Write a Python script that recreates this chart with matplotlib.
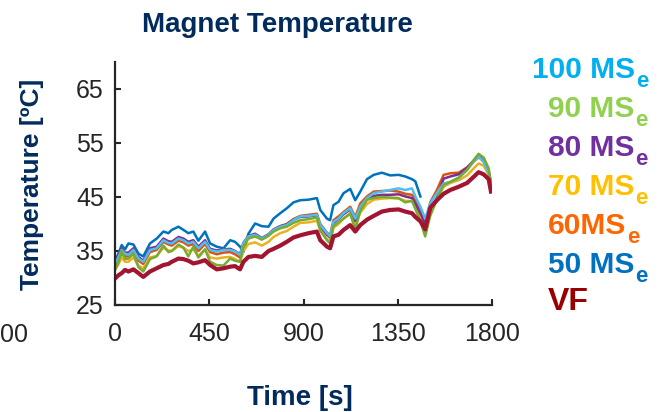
import numpy as np
import matplotlib.pyplot as plt

plt.rcParams['font.family'] = ['Liberation Sans', 'DejaVu Sans']

# time samples [s]
time_s = [0, 16, 32, 48, 64, 88, 112, 135, 167, 199, 231, 255, 271, 303, 327, 350,
          374, 398, 430, 454, 486, 518, 550, 573, 597, 613, 637, 669, 701, 733, 757,
          789, 820, 852, 884, 924, 964, 980, 1012, 1027, 1043, 1067, 1091, 1123, 1147,
          1171, 1203, 1235, 1274, 1314, 1354, 1386, 1418, 1434, 1458, 1481, 1505, 1537,
          1569, 1601, 1641, 1681, 1720, 1736, 1760, 1784, 1795]

# magnet temperature [C] for each case
temp_50 = [33.0, 34.5, 36.1, 35.3, 36.4, 36.2, 34.5, 34.0, 36.4, 37.3, 38.6, 38.3, 38.9,
           39.5, 38.9, 38.3, 38.6, 36.9, 38.6, 36.4, 35.8, 35.5, 37.0, 36.7, 35.8, 34.8,
           38.2, 40.1, 39.6, 39.5, 41.0, 42.0, 42.9, 44.0, 44.4, 44.5, 44.8, 42.6, 41.0,
           40.7, 43.5, 44.1, 45.7, 46.5, 44.4, 46.0, 48.3, 49.1, 49.5, 49.0, 49.1, 48.8,
           48.3, 47.9, 45.1]
temp_60 = [32.0, 33.2, 34.6, 34.0, 34.0, 34.8, 33.2, 32.6, 34.8, 35.2, 36.7, 36.2, 36.0,
           36.9, 36.6, 36.0, 36.3, 35.0, 36.3, 34.8, 34.4, 34.7, 34.8, 34.4, 33.8, 36.2,
           37.5, 37.9, 37.2, 38.0, 38.9, 39.6, 40.0, 40.9, 41.5, 41.7, 41.9, 40.0, 38.4,
           37.9, 40.7, 41.4, 42.2, 43.2, 41.3, 43.8, 45.1, 46.0, 46.1, 46.2, 46.0, 45.6,
           45.4, 44.3, 42.5, 39.8, 44.0, 46.3, 49.1, 49.4, 49.5, 50.5, 51.8, 52.4, 51.6,
           49.5, 47.5]
temp_70 = [31.5, 32.5, 33.8, 33.0, 33.0, 33.8, 32.3, 31.8, 33.8, 34.1, 35.6, 35.1, 35.0,
           35.9, 35.6, 35.0, 35.3, 34.1, 35.3, 33.8, 33.6, 33.8, 33.9, 33.5, 33.0, 35.0,
           36.3, 36.6, 36.0, 36.7, 37.6, 38.3, 38.7, 39.5, 40.2, 40.3, 40.6, 38.8, 37.2,
           36.8, 39.3, 40.0, 41.0, 42.0, 40.0, 42.1, 43.7, 44.5, 44.7, 44.8, 44.7, 44.3,
           44.2, 43.2, 41.3, 38.8, 41.8, 44.5, 46.9, 47.6, 48.1, 49.0, 50.6, 51.2, 50.8,
           49.1, 47.6]
temp_80 = [33.0, 34.2, 35.4, 34.7, 34.7, 35.5, 33.9, 33.2, 35.5, 35.8, 37.3, 36.8, 36.7,
           37.6, 37.3, 36.7, 37.0, 35.8, 37.0, 35.4, 35.1, 35.3, 35.4, 35.0, 34.4, 36.5,
           37.8, 38.2, 37.4, 38.1, 39.0, 39.6, 39.9, 40.8, 41.3, 41.4, 41.6, 39.6, 38.0,
           37.5, 40.2, 40.9, 41.8, 42.7, 40.6, 43.0, 44.5, 45.2, 45.4, 45.4, 45.5, 45.1,
           44.8, 43.8, 42.0, 40.0, 42.5, 44.8, 48.4, 48.8, 49.2, 50.4, 52.1, 52.8, 52.2,
           50.0, 47.5]
temp_90 = [31.5, 32.8, 35.0, 33.5, 33.6, 34.5, 32.0, 31.2, 33.5, 34.0, 36.0, 34.8, 35.0,
           36.2, 35.6, 34.0, 35.8, 33.8, 35.3, 33.0, 32.4, 32.3, 33.6, 33.2, 33.0, 35.8,
           37.3, 37.7, 37.1, 37.8, 38.6, 39.2, 39.5, 40.2, 40.7, 40.9, 41.2, 38.8, 37.0,
           36.4, 39.6, 40.3, 41.0, 41.9, 39.0, 42.4, 44.5, 44.8, 45.0, 44.9, 44.8, 44.0,
           44.3, 42.8, 40.5, 37.7, 41.5, 44.6, 47.2, 47.8, 48.6, 50.0, 52.2, 53.0, 52.3,
           50.3, 47.4]
temp_100 = [32.7, 33.8, 35.2, 34.5, 34.3, 35.2, 33.6, 33.0, 35.2, 35.5, 37.0, 36.5, 36.4,
            37.3, 37.0, 36.4, 36.7, 35.5, 36.7, 35.2, 34.9, 35.2, 35.2, 34.9, 34.3, 36.4,
            37.7, 38.0, 37.3, 38.0, 38.9, 39.5, 39.8, 40.7, 41.4, 41.5, 41.7, 39.8, 38.3,
            37.7, 40.4, 41.0, 42.0, 42.9, 41.0, 43.2, 44.8, 45.7, 46.0, 46.3, 46.6, 46.3,
            46.6, 45.1, 43.2, 41.0, 43.8, 45.7, 47.5, 47.8, 48.5, 50.0, 51.9, 52.5, 51.5,
            49.4, 46.9]
temp_vf = [29.9, 30.5, 30.9, 31.5, 31.2, 31.6, 30.9, 30.2, 31.2, 31.8, 32.4, 32.6, 33.0,
           33.6, 33.5, 33.2, 32.7, 32.9, 33.3, 32.4, 31.6, 31.8, 32.1, 32.2, 31.6, 33.0,
           33.9, 34.1, 33.9, 35.0, 35.4, 36.0, 36.7, 37.5, 37.9, 38.3, 38.6, 37.0, 35.8,
           35.5, 37.7, 38.0, 38.9, 39.8, 38.6, 39.8, 40.8, 41.5, 42.3, 42.6, 42.7, 42.3,
           42.0, 41.3, 40.5, 39.0, 43.0, 44.4, 45.6, 46.3, 46.9, 47.6, 49.0, 49.6, 49.2,
           48.3, 46.0]

# legend entries: main text, subscript
labels = [('100 MS', 'e'), ('90 MS', 'e'), ('80 MS', 'e'), ('70 MS', 'e'),
          ('60MS', 'e'), ('50 MS', 'e'), ('VF', '')]
label_colors = ['#00B0F0', '#92D050', '#7030A0', '#FFC000', '#FF6600', '#0070C0', '#990000']

navy = '#002B5C'
dark = '#262626'

fig = plt.figure(figsize=(6.61, 4.12), dpi=100)
ax = fig.add_axes([115 / 661, 1 - 305 / 412, 377 / 661, 243 / 412])

t = np.array(time_s)
ax.plot(t[:len(temp_50)], temp_50, color='#0072BD', lw=1.8)
ax.plot(t, temp_60, color='#D95319', lw=1.8)
ax.plot(t, temp_70, color='#EDB120', lw=1.8)
ax.plot(t, temp_80, color='#7E2F8E', lw=1.8)
ax.plot(t, temp_100, color='#4DBEEE', lw=1.8)
ax.plot(t, temp_90, color='#77AC30', lw=1.8)
ax.plot(t, temp_vf, color='#A2142F', lw=3.0)

ax.set_xlim(0, 1800)
ax.set_ylim(25, 70)
ax.set_xticks([0, 450, 900, 1350, 1800])
ax.set_yticks([25, 35, 45, 55, 65])
ax.tick_params(direction='in', length=4, width=1.5, colors=dark,
               labelsize=18, pad=12)
ax.tick_params(axis='y', pad=8)
for side in ['top', 'right']:
    ax.spines[side].set_visible(False)
for side in ['left', 'bottom']:
    ax.spines[side].set_color(dark)
    ax.spines[side].set_linewidth(1.6)

fig.text(277 / 661, 1 - 32 / 412, 'Magnet Temperature', ha='center', va='baseline',
         fontsize=20, fontweight='bold', color=navy)
fig.text(300 / 661, 1 - 405 / 412, 'Time [s]', ha='center', va='baseline',
         fontsize=20, fontweight='bold', color=navy)
fig.text(32 / 661, 1 - 184 / 412, 'Temperature [ºC]', ha='center', va='center',
         rotation=90, fontsize=19, fontweight='bold', color=navy)
fig.text(0, 1 - 342 / 412, '00', ha='left', va='baseline', fontsize=18, color=dark)

# legend written as coloured text with a lowered subscript
renderer = fig.canvas.get_renderer()
legend_x = [532, 548, 548, 548, 548, 548, 548]
legend_y = [78, 117, 156, 195, 234, 273, 310]
for (main, sub), col, lx, ly in zip(labels, label_colors, legend_x, legend_y):
    size = 23 if main == 'VF' else 21.5
    txt = fig.text(lx / 661, 1 - ly / 412, main, ha='left', va='baseline',
                   fontsize=size, fontweight='bold', color=col)
    if sub:
        bb = txt.get_window_extent(renderer)
        fig.text((bb.x1 + 1) / 661, 1 - (ly + 9) / 412, sub, ha='left',
                 va='baseline', fontsize=16, fontweight='bold', color=col)

fig.savefig('out.png', dpi=100)
